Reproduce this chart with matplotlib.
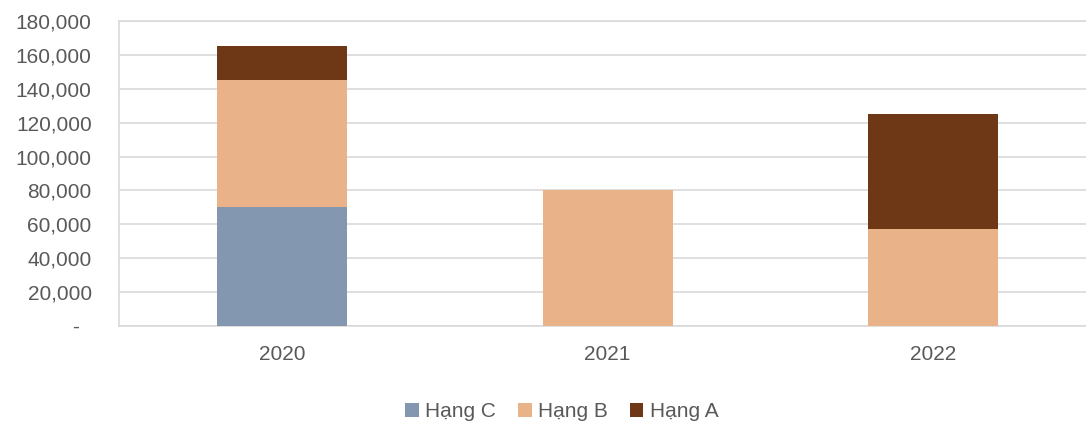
import numpy as np
import matplotlib.pyplot as plt
from matplotlib.ticker import FuncFormatter

plt.rcParams['font.family'] = ['Liberation Sans', 'DejaVu Sans']

years = ['2020', '2021', '2022']
hang_c = [70000, 0, 0]
hang_b = [75000, 80000, 57000]
hang_a = [20000, 0, 68000]

col_c = '#8497B0'
col_b = '#EAB288'
col_a = '#6E3817'
txt = '#595959'
grid = '#D9D9D9'

fig = plt.figure(figsize=(10.86, 4.21), dpi=100)
ax = fig.add_axes([0.110, 0.2257, 0.899, 0.7245])

x = np.arange(len(years))
w = 0.4
c = np.array(hang_c)
b = np.array(hang_b)
a = np.array(hang_a)

ax.bar(x, c, w, color=col_c, label='Hạng C', zorder=3)
ax.bar(x, b, w, bottom=c, color=col_b, label='Hạng B', zorder=3)
ax.bar(x, a, w, bottom=c + b, color=col_a, label='Hạng A', zorder=3)

ax.set_xlim(-0.5, 2.5)
ax.set_ylim(0, 180000)
ax.set_yticks(np.arange(0, 180001, 20000))
# accounting style: zero shown as a dash
ax.yaxis.set_major_formatter(FuncFormatter(lambda v, p: '-  ' if v == 0 else f'{int(v):,}'))
ax.set_xticks(x)
ax.set_xticklabels(years)

ax.grid(axis='y', color=grid, linewidth=1.2, zorder=0)
for s in ax.spines.values():
    s.set_color(grid)
    s.set_linewidth(1.2)
ax.tick_params(axis='both', length=0, labelsize=15, colors=txt)
ax.tick_params(axis='y', pad=20)
ax.tick_params(axis='x', pad=14)

ax.legend(loc='center', bbox_to_anchor=(0.517, 0.022), bbox_transform=fig.transFigure,
          ncol=3, frameon=False, fontsize=15, labelcolor=txt,
          handlelength=0.67, handleheight=0.67, handletextpad=0.3, columnspacing=1.05,
          borderpad=0)

fig.savefig('out.png', dpi=100)
